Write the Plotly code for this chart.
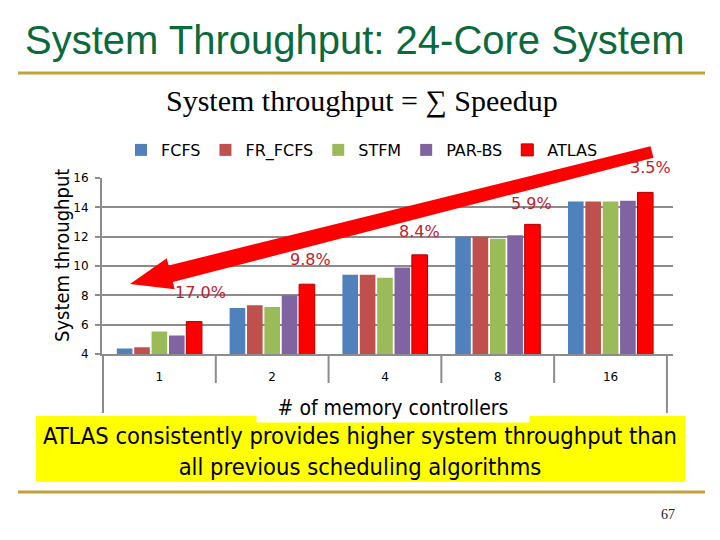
import numpy as np
import plotly.graph_objects as go

# ---------------- data ----------------
categories = ["1", "2", "4", "8", "16"]
series_names = ["FCFS", "FR_FCFS", "STFM", "PAR-BS", "ATLAS"]
fcfs = [4.37, 7.13, 9.40, 12.00, 14.40]
fr_fcfs = [4.46, 7.33, 9.40, 12.00, 14.40]
stfm = [5.54, 7.20, 9.20, 11.86, 14.40]
par_bs = [5.26, 8.00, 9.89, 12.10, 14.45]
atlas = [6.21, 8.76, 10.76, 12.84, 15.02]
gain_labels = ["17.0%", "9.8%", "8.4%", "5.9%", "3.5%"]
y_ticks = [4, 6, 8, 10, 12, 14, 16]

series_values = [fcfs, fr_fcfs, stfm, par_bs, atlas]
colors = ["#4F81BD", "#C0504D", "#9BBB59", "#8064A2", "#FF0000"]
outline = ["rgba(0,0,0,0)"] * 4 + ["#B00000"]

# ---------------- geometry helpers (pixel -> paper) ----------------
PL, PR, PT, PB = 102, 673, 178, 354
W, H = 720, 540


def px(x):
    return (x - PL) / (PR - PL)


def py(y):
    return (PB - y) / (PB - PT)


COND = "DejaVu Sans Condensed, Liberation Sans Narrow, DejaVu Sans, sans-serif"
VERD = "DejaVu Sans, Verdana, sans-serif"

fig = go.Figure()
for name, vals, col, oc in zip(series_names, series_values, colors, outline):
    fig.add_trace(go.Bar(
        x=categories, y=vals, name=name,
        marker=dict(color=col, line=dict(color=oc, width=1 if name == "ATLAS" else 0)),
    ))

shapes = []
# category separators below the axis
n = len(categories)
for i in range(n + 1):
    outer = i in (0, n)
    shapes.append(dict(type="line", xref="x", yref="paper",
                       x0=i - 0.5, x1=i - 0.5, y0=0, y1=py(413 if outer else 383),
                       line=dict(color="#8C8C8C", width=2), layer="above"))

# gold rules
for yy in (73, 492):
    shapes.append(dict(type="line", xref="paper", yref="paper",
                       x0=px(18), x1=px(705), y0=py(yy), y1=py(yy),
                       line=dict(color="#C4A03A", width=3)))

# yellow conclusion box
shapes.append(dict(type="rect", xref="paper", yref="paper",
                   x0=px(36), x1=px(685), y0=py(482), y1=py(416),
                   fillcolor="#FFFF00", line=dict(width=0), layer="above"))

# big red arrow
tail = np.array([652.0, 152.0])
tip = np.array([130.0, 284.0])
d = (tip - tail) / np.linalg.norm(tip - tail)
nrm = np.array([-d[1], d[0]])
base = tip - d * 42
pts = [tail + nrm * 6, base + nrm * 8.5, base + nrm * 16, tip,
       base - nrm * 16, base - nrm * 8.5, tail - nrm * 6]
path = "M " + " L ".join(f"{px(p[0]):.5f},{py(p[1]):.5f}" for p in pts) + " Z"
shapes.append(dict(type="path", xref="paper", yref="paper", path=path,
                   fillcolor="#FF0000", line=dict(width=0), layer="above"))

annotations = []
# title and subtitle
annotations.append(dict(text="System Throughput: 24-Core System", xref="paper", yref="paper",
                        x=px(355), y=py(40), showarrow=False, xanchor="center", yanchor="middle",
                        font=dict(family="Liberation Sans, Arial", size=40, color="#0B6A3B")))
annotations.append(dict(text="System throughput = ∑ Speedup", xref="paper", yref="paper",
                        x=px(362), y=py(101), showarrow=False, xanchor="center", yanchor="middle",
                        font=dict(family="Liberation Serif, Times New Roman", size=30, color="black")))
# improvement labels above ATLAS bars
xshift = [6, 3, 0, -1, 5]
yshift = [29, 25, 23, 21, 25]
for i, lab in enumerate(gain_labels):
    annotations.append(dict(text=lab, xref="x", yref="y", x=i + 0.31, y=atlas[i],
                            xshift=xshift[i], yshift=yshift[i], showarrow=False,
                            xanchor="center", yanchor="middle",
                            font=dict(family=VERD, size=16, color="#C0202A")))
# axis titles
annotations.append(dict(text="System throughput", xref="paper", yref="paper",
                        x=px(62), y=py(256), textangle=-90, showarrow=False,
                        xanchor="center", yanchor="middle",
                        font=dict(family=COND, size=20, color="black")))
annotations.append(dict(text="# of memory controllers", xref="paper", yref="paper",
                        x=px(393), y=py(408), showarrow=False, xanchor="center", yanchor="middle",
                        bgcolor="white", width=270, height=26,
                        font=dict(family=COND, size=21, color="black")))
# conclusion text
annotations.append(dict(text="ATLAS consistently provides higher system throughput than<br>all previous scheduling algorithms",
                        xref="paper", yref="paper", x=px(360), y=py(451), showarrow=False,
                        xanchor="center", yanchor="middle", align="center",
                        font=dict(family=COND, size=23.5, color="black")))
# page number
annotations.append(dict(text="67", xref="paper", yref="paper", x=px(668), y=py(514),
                        showarrow=False, xanchor="center", yanchor="middle",
                        font=dict(family="Liberation Serif, Times New Roman", size=14, color="#222222")))

fig.update_layout(
    width=W, height=H, autosize=False,
    margin=dict(l=PL, r=W - PR, t=PT, b=H - PB),
    paper_bgcolor="white", plot_bgcolor="white",
    barmode="group", bargap=0.23, bargroupgap=0.1,
    showlegend=True,
    legend=dict(orientation="h", x=px(362), xanchor="center", y=py(150), yanchor="middle",
                font=dict(family=VERD, size=16, color="black"), bgcolor="rgba(0,0,0,0)",
                traceorder="normal"),
    shapes=shapes, annotations=annotations,
)
fig.update_yaxes(range=[4, 16], tickvals=y_ticks, showgrid=True, gridcolor="#8C8C8C", gridwidth=2,
                 zeroline=False, showline=True, linecolor="#8C8C8C", linewidth=2,
                 ticks="outside", ticklen=5, tickcolor="#8C8C8C", tickwidth=2,
                 ticklabelstandoff=4,
                 tickfont=dict(family=VERD, size=12, color="black"))
fig.update_xaxes(type="category", showgrid=False, showline=True, linecolor="#8C8C8C", linewidth=2,
                 ticks="outside", ticklen=11, tickcolor="rgba(0,0,0,0)",
                 tickfont=dict(family=VERD, size=12, color="black"))

fig.write_html("out.html")
